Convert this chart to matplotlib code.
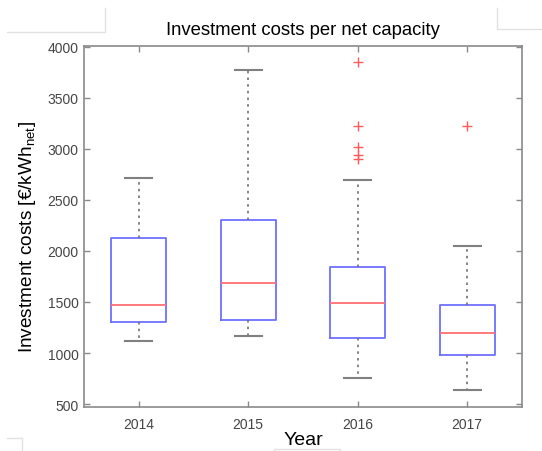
import matplotlib
matplotlib.use("Agg")
import matplotlib.pyplot as plt
from matplotlib.lines import Line2D

plt.rcParams['font.family'] = ['Liberation Sans', 'DejaVu Sans']

# box statistics (€/kWh_net)
years = ['2014', '2015', '2016', '2017']
whislo = [1114, 1166, 755, 634]
q1 = [1306, 1320, 1143, 977]
med = [1470, 1685, 1489, 1195]
q3 = [2123, 2305, 1842, 1473]
whishi = [2717, 3775, 2697, 2048]
fliers = [[], [], [3853, 3223, 3014, 2939, 2900], [3223]]

stats = []
for i in range(len(years)):
    stats.append(dict(label=years[i], whislo=whislo[i], q1=q1[i], med=med[i],
                      q3=q3[i], whishi=whishi[i], fliers=fliers[i]))

fig = plt.figure(figsize=(5.42, 4.52), dpi=100)
ax = fig.add_axes([0.155, 0.097, 0.808, 0.799])

ax.bxp(stats, widths=0.5, showfliers=True,
       boxprops=dict(color='#6f6fff', linewidth=1.3),
       medianprops=dict(color='#ff7070', linewidth=1.3),
       whiskerprops=dict(color='#707070', linewidth=1.2, linestyle=(0, (1.5, 2.5))),
       capprops=dict(color='#808080', linewidth=1.5),
       flierprops=dict(marker='+', markeredgecolor='#ff5a5a', markersize=7, markeredgewidth=1.0))

ax.set_xlim(0.5, 4.5)
ax.set_ylim(470, 4005)
ax.set_yticks(range(500, 4001, 500))

for s in ax.spines.values():
    s.set_color('#8a8a8a')
    s.set_linewidth(1.2)
ax.tick_params(direction='in', top=True, right=True, length=4, width=1,
               color='#8a8a8a', labelcolor='#454545', labelsize=10)
ax.tick_params(axis='x', pad=7)
ax.tick_params(axis='y', pad=4)

ax.set_title('Investment costs per net capacity', fontsize=13.3, pad=9)
ax.set_xlabel('Year', fontsize=14, labelpad=0)
ax.set_ylabel('Investment costs [€/kWh$_{\\mathregular{net}}$]', fontsize=13.7)
ax.yaxis.set_label_coords(-0.105, 0.475)

# faint crop borders from the screenshot
grey = '#e2e2e2'
for xs, ys in [([0.013, 0.194, 0.194], [0.927, 0.927, 0.98]),
               ([0.917, 0.917, 1.0], [0.98, 0.934, 0.934]),
               ([0.013, 0.04, 0.04], [0.029, 0.029, 0.0]),
               ([0.505, 0.505, 0.627, 0.627], [0.0, 0.004, 0.004, 0.0])]:
    fig.add_artist(Line2D(xs, ys, color=grey, linewidth=1, transform=fig.transFigure))

fig.savefig('out.png', dpi=100)
